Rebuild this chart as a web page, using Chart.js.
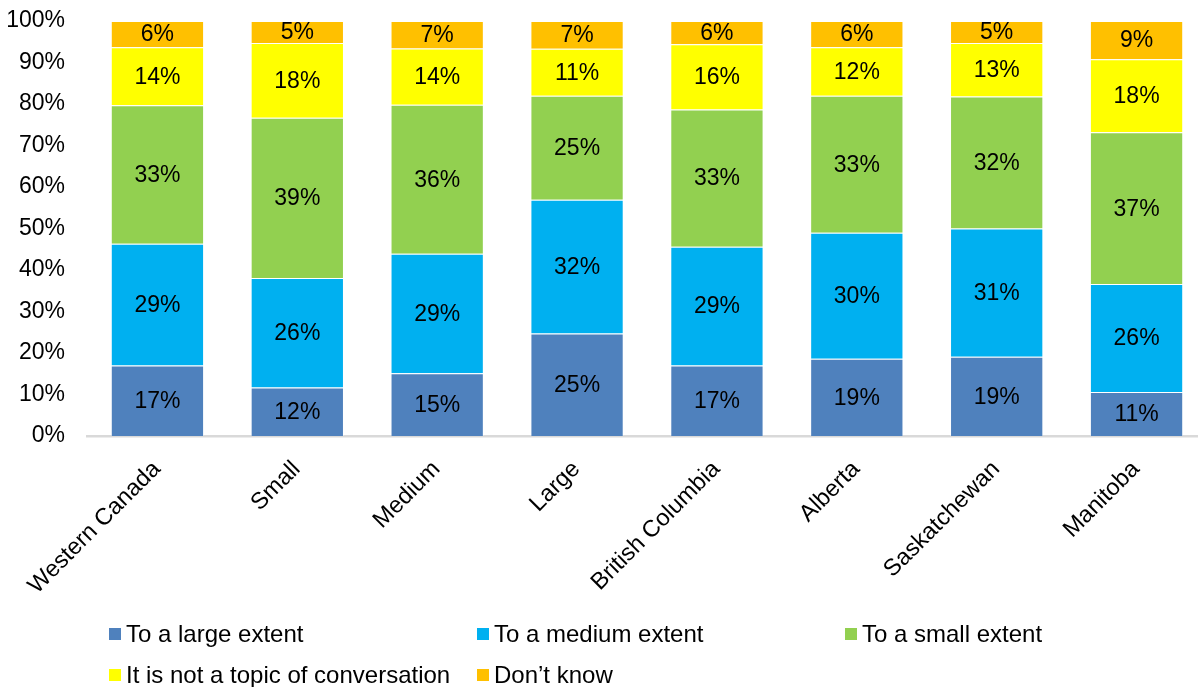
<!DOCTYPE html>
<html>
<head>
<meta charset="utf-8">
<script src="https://cdn.jsdelivr.net/npm/chart.js@4.4.1/dist/chart.umd.min.js"></script>
<style>
  html, body { margin: 0; padding: 0; background: #fff; overflow: hidden; }
  #wrap { position: relative; width: 1198px; height: 687px; overflow: hidden; }
  #chart { position: absolute; left: 0; top: 0; }
  #legend { position: absolute; left: 109px; top: 613px; font-family: Arial, "Liberation Sans", sans-serif;
            font-size: 24px; color: #000; display: grid; grid-template-columns: 368px 368px 368px; }
  #legend span.item { display: flex; align-items: center; white-space: nowrap; height: 41px; }
  #legend span.box { width: 12px; height: 12px; margin-right: 5px; display: inline-block; flex: none; }
</style>
</head>
<body>
<div id="wrap">
  <canvas id="chart" width="1210" height="687"></canvas>
  <div id="legend"></div>
</div>
<script>
const regions = ["Western Canada", "Small", "Medium", "Large", "British Columbia", "Alberta", "Saskatchewan", "Manitoba"];

// share of respondents per answer, in percent
const largeExtent  = [17.0, 11.7, 15.1, 24.7, 17.0, 18.6, 19.1, 10.6];
const mediumExtent = [29.3, 26.4, 28.8, 32.2, 28.6, 30.4, 30.9, 26.0];
const smallExtent  = [33.4, 38.6, 35.9, 25.1, 33.1, 33.0, 31.8, 36.6];
const notTopic     = [14.0, 18.0, 13.6, 11.3, 15.7, 11.7, 12.9, 17.6];
const dontKnow     = [6.3, 5.3, 6.6, 6.7, 5.6, 6.3, 5.3, 9.2];

const seriesNames  = ["To a large extent", "To a medium extent", "To a small extent", "It is not a topic of conversation", "Don\u2019t know"];
const seriesColours = ["#4F81BD", "#00B0F0", "#92D050", "#FFFF00", "#FFC000"];
const seriesValues = [largeExtent, mediumExtent, smallExtent, notTopic, dontKnow];

const yTicks = [0, 10, 20, 30, 40, 50, 60, 70, 80, 90, 100];

const FONT = "Arial, 'Liberation Sans', sans-serif";

var datasets = new Array();
for (var i = 0; i < seriesNames.length; i++) {
    datasets.push({
        label: seriesNames[i],
        data: seriesValues[i],
        backgroundColor: seriesColours[i],
        borderColor: "rgba(255,255,255,0.35)",
        borderWidth: 1,
        barPercentage: 0.667,
        categoryPercentage: 1.0
    });
}

// writes the rounded percentage in the middle of every segment
const segmentLabels = {
    id: "segmentLabels",
    afterDatasetsDraw(chart) {
        const ctx = chart.ctx;
        ctx.save();
        ctx.font = "23px " + FONT;
        ctx.fillStyle = "#000";
        ctx.textAlign = "center";
        ctx.textBaseline = "middle";
        chart.data.datasets.forEach((ds, di) => {
            chart.getDatasetMeta(di).data.forEach((bar, i) => {
                const mid = (bar.y + bar.base) / 2;
                ctx.fillText(Math.round(ds.data[i]) + "%", bar.x, mid + 1);
            });
        });
        ctx.restore();
    }
};

// category names at 45 degrees, right end hanging just under each bar
const slantedLabels = {
    id: "slantedLabels",
    afterDraw(chart) {
        const ctx = chart.ctx;
        const xAxis = chart.scales.x;
        ctx.save();
        ctx.font = "23.5px " + FONT;
        ctx.fillStyle = "#000";
        ctx.textAlign = "right";
        ctx.textBaseline = "alphabetic";
        chart.data.labels.forEach((lbl, i) => {
            const x = xAxis.getPixelForTick(i);
            ctx.save();
            ctx.translate(x + 4, xAxis.top + 34);
            ctx.rotate(-Math.PI / 4);
            ctx.fillText(lbl, 0, 0);
            ctx.restore();
        });
        ctx.restore();
    }
};

const config = {
    type: "bar",
    data: { labels: regions, datasets: datasets },
    options: {
        responsive: false,
        animation: false,
        layout: { padding: { top: 21, left: 0, right: 3.5, bottom: 0 } },
        plugins: {
            legend: { display: false },
            tooltip: { enabled: false }
        },
        scales: {
            x: {
                stacked: true,
                grid: { display: false },
                border: { color: "#D9D9D9", width: 2.5 },
                ticks: { display: false },
                afterFit: (axis) => {
                    axis.height = 251;
                    axis.paddingLeft = 0;
                    axis.paddingRight = 0;
                }
            },
            y: {
                stacked: true,
                min: 0,
                max: 100,
                grid: { display: false, drawTicks: false },
                border: { display: false },
                afterBuildTicks: (axis) => { axis.ticks = yTicks.map(v => ({ value: v })); },
                afterFit: (axis) => {
                    axis.width = 87.5;
                    axis.paddingTop = 0;
                    axis.paddingBottom = 0;
                },
                ticks: {
                    color: "#000",
                    font: { family: FONT, size: 23 },
                    padding: 22.5,
                    callback: (v) => v + "%"
                }
            }
        }
    },
    plugins: [segmentLabels, slantedLabels]
};

const myChart = new Chart(document.getElementById("chart"), config);

// legend laid out as a two-row grid under the chart
var legendEl = document.getElementById("legend");
myChart.data.datasets.forEach((ds) => {
    var item = document.createElement("span");
    item.className = "item";
    var box = document.createElement("span");
    box.className = "box";
    box.style.background = ds.backgroundColor;
    item.appendChild(box);
    item.appendChild(document.createTextNode(ds.label));
    legendEl.appendChild(item);
});
</script>
</body>
</html>
